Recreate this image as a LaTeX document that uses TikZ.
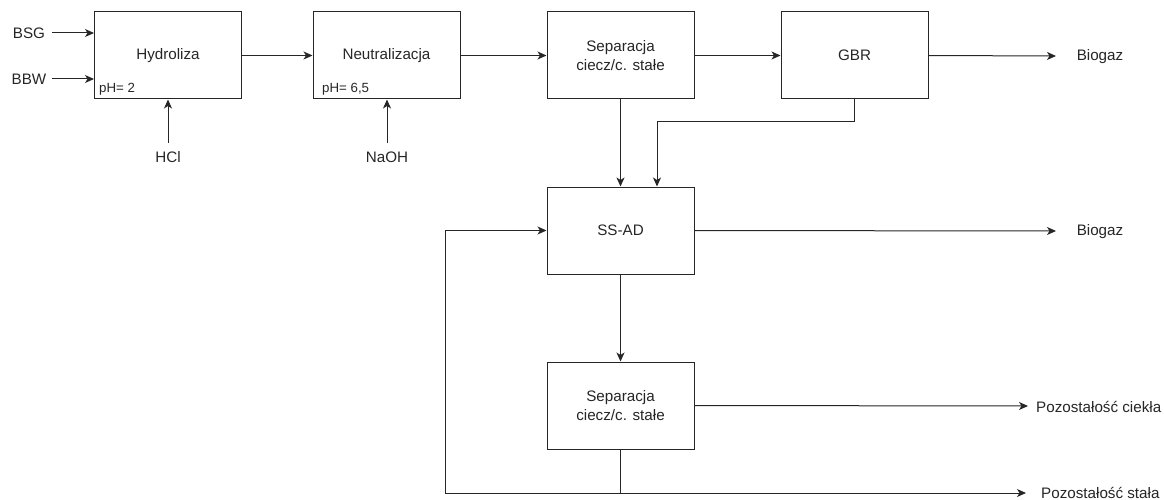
\documentclass[tikz,border=0pt]{standalone}
\usepackage{fontspec}
\setmainfont{Liberation Sans}
\usetikzlibrary{arrows.meta}
\begin{document}
\begin{tikzpicture}[x=1pt,y=-1pt,
  box/.style={draw=black!85,line width=1pt,minimum width=147pt,minimum height=87pt,inner sep=0pt,align=center,
    font=\fontsize{15.2}{18.5}\selectfont,text=black!85},
  lbl/.style={font=\fontsize{15.2}{18.5}\selectfont,text=black!85,inner sep=0pt},
  small/.style={font=\fontsize{13.3}{15}\selectfont,text=black!85,inner sep=0pt,anchor=west},
  arr/.style={draw=black!85,line width=1pt,-{Stealth[length=9pt,width=8pt,inset=2.5pt]}},
  ln/.style={draw=black!85,line width=1pt}]
\useasboundingbox (0,0) rectangle (1164,500);
% boxes
\node[box] (hyd) at (168,55.5) {Hydroliza};
\node[box] (neu) at (386.5,55.5) {Neutralizacja};
\node[box] (sep1) at (620.5,55.5) {Separacja\\ciecz/c. stałe};
\node[box] (gbr) at (854.5,55.5) {GBR};
\node[box] (ssad) at (620.5,230.5) {SS-AD};
\node[box] (sep2) at (620.5,405.5) {Separacja\\ciecz/c. stałe};
% small labels in boxes
\node[small] (ph1) at (99,89) {pH= 2};
\node[small] (ph2) at (322,89) {pH= 6,5};
% outer labels
\node[lbl] (bsg) at (29,33) {BSG};
\node[lbl] (bbw) at (29,79) {BBW};
\node[lbl] (hcl) at (168,157) {HCl};
\node[lbl] (naoh) at (387,157) {NaOH};
\node[lbl] (bio1) at (1100,57) {Biogaz};
\node[lbl] (bio2) at (1100,232) {Biogaz};
\node[lbl,anchor=west] (ciekla) at (1036,407) {Pozostałość ciekła};
\node[lbl,anchor=west] (stala) at (1041,493) {Pozostałość stała};
% coordinates
\coordinate (bsgs) at (52,33);
\coordinate (bbws) at (52,79);
\coordinate (hcls) at (168,143);
\coordinate (naohs) at (387,143);
\coordinate (bio1e) at (1056,56);
\coordinate (bio2e) at (1056,231);
\coordinate (cie) at (1028,406);
\coordinate (ste) at (1026,493);
\coordinate (fbl) at (445,493);
\coordinate (gbrturn) at (854,122);
\coordinate (gbrin) at (657,122);
% connectors
\draw[arr] (bsgs) -- (bsgs -| hyd.west);
\draw[arr] (bbws) -- (bbws -| hyd.west);
\draw[arr] (hcls) -- (hcls |- hyd.south);
\draw[arr] (naohs) -- (naohs |- neu.south);
\draw[arr] (hyd.east) -- (neu.west);
\draw[arr] (neu.east) -- (sep1.west);
\draw[arr] (sep1.east) -- (gbr.west);
\draw[arr] (gbr.east) -- (bio1e);
\draw[arr] (sep1.south) -- (ssad.north);
\draw[arr] (gbrturn |- gbr.south) -- (gbrturn) -- (gbrin) -- (gbrin |- ssad.north);
\draw[arr] (ssad.east) -- (bio2e);
\draw[arr] (ssad.south) -- (sep2.north);
\draw[arr] (sep2.east) -- (cie);
\draw[ln] (sep2.south) -- (sep2.south |- fbl);
\draw[arr] (fbl) -- (ste);
\draw[arr] (fbl) |- (ssad.west);
\end{tikzpicture}
\end{document}
